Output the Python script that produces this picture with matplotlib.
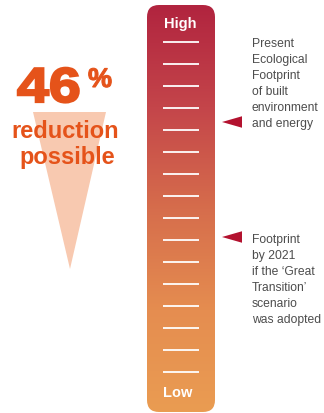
import numpy as np
import matplotlib.pyplot as plt
import matplotlib.patheffects as pe
from matplotlib.colors import LinearSegmentedColormap
from matplotlib.patches import FancyBboxPatch, Polygon, PathPatch
from matplotlib.textpath import TextPath
from matplotlib.font_manager import FontProperties
from matplotlib.transforms import Affine2D

# footprint index: present = 100, scale ticks every 8.8
reduction_pct = 46
present_footprint = 100
transition_footprint = present_footprint * (100 - reduction_pct) / 100
tick_levels = [0, 8.8, 17.6, 26.4, 35.2, 44, 52.8, 61.6, 70.4, 79.2, 88, 96.8,
               105.6, 114.4, 123.2, 132]
scale_labels = ['High', 'Low']
present_text = 'Present\nEcological\nFootprint\nof built\nenvironment\nand energy'
transition_text = 'Footprint\nby 2021\nif the \u2018Great\nTransition\u2019\nscenario\nwas adopted'

bar_colors = ['#b1243f', '#c4454a', '#d66d4c', '#e58d50', '#ea9c52']
orange = '#e5531a'
arrow_red = '#b3122f'
grey = '#4d4d4d'

W, H = 324, 414
fig = plt.figure(figsize=(W / 100, H / 100), dpi=100)
ax = fig.add_axes([0, 0, 1, 1])
ax.axis('off')


def px(x, y):
    return x / W, 1 - y / H


# thermometer bar with gradient
bar_bottom, bar_top = -16.0, 146.8
box = FancyBboxPatch((147, bar_bottom), 68, bar_top - bar_bottom,
                     boxstyle='round,pad=0,rounding_size=12', mutation_aspect=0.4,
                     facecolor='none', edgecolor='none')
ax.add_patch(box)
cmap = LinearSegmentedColormap.from_list('bar', bar_colors)
grad = np.linspace(0, 1, 256).reshape(-1, 1)
img = ax.imshow(grad, cmap=cmap, aspect='auto', origin='upper',
                extent=[147, 215, bar_bottom, bar_top], zorder=1)
img.set_clip_path(box)
ax.set_xlim(0, W)
ax.set_ylim(-16.4, 149.2)   # 2.5 px per unit, 0 at the lowest tick

ax.hlines(tick_levels, 163, 199, color='white', lw=1.3, zorder=2)

fig.text(*px(180, 24), scale_labels[0], color='white', fontsize=10.5,
         family='Liberation Sans', weight='bold', ha='center', va='center')
fig.text(*px(178, 393), scale_labels[1], color='white', fontsize=10.5,
         family='Liberation Sans', weight='bold', ha='center', va='center')

# arrows pointing at the bar
for lvl in [present_footprint, transition_footprint]:
    ax.add_patch(Polygon([(222, lvl), (242, lvl + 2.3), (242, lvl - 2.3)],
                         closed=True, facecolor=arrow_red, edgecolor='none'))

fig.text(*px(252, 38), present_text, color=grey, fontsize=8.7,
         family='Liberation Sans', ha='left', va='top', linespacing=1.44)
fig.text(*px(252, 234), transition_text, color=grey, fontsize=8.7,
         family='Liberation Sans', ha='left', va='top', linespacing=1.44)

# reduction cone
cone = Polygon([px(33, 113), px(106, 113), px(70, 270)], closed=True,
               transform=fig.transFigure, facecolor='#f8c9b0', edgecolor='none')
fig.patches.append(cone)

# big number, widened a bit to match the heavy display face
bold = FontProperties(family='Liberation Sans', weight='bold')
to_fig = Affine2D().scale(1 / W, 1 / H) + fig.transFigure
num = TextPath((0, 0), str(reduction_pct), size=49, prop=bold)
fig.patches.append(PathPatch(num, facecolor=orange, edgecolor=orange, lw=1.6,
                             transform=Affine2D().scale(1.17, 1).translate(17, H - 103) + to_fig))
pct = TextPath((0, 0), '%', size=27, prop=bold)
fig.patches.append(PathPatch(pct, facecolor=orange, edgecolor=orange, lw=0.8,
                             transform=Affine2D().translate(88, H - 88) + to_fig))

fig.text(*px(65, 132), 'reduction', color=orange, fontsize=17,
         family='Liberation Sans', weight='bold', ha='center', va='center')
fig.text(*px(67, 158), 'possible', color=orange, fontsize=17,
         family='Liberation Sans', weight='bold', ha='center', va='center')

fig.savefig('out.png', dpi=100)
